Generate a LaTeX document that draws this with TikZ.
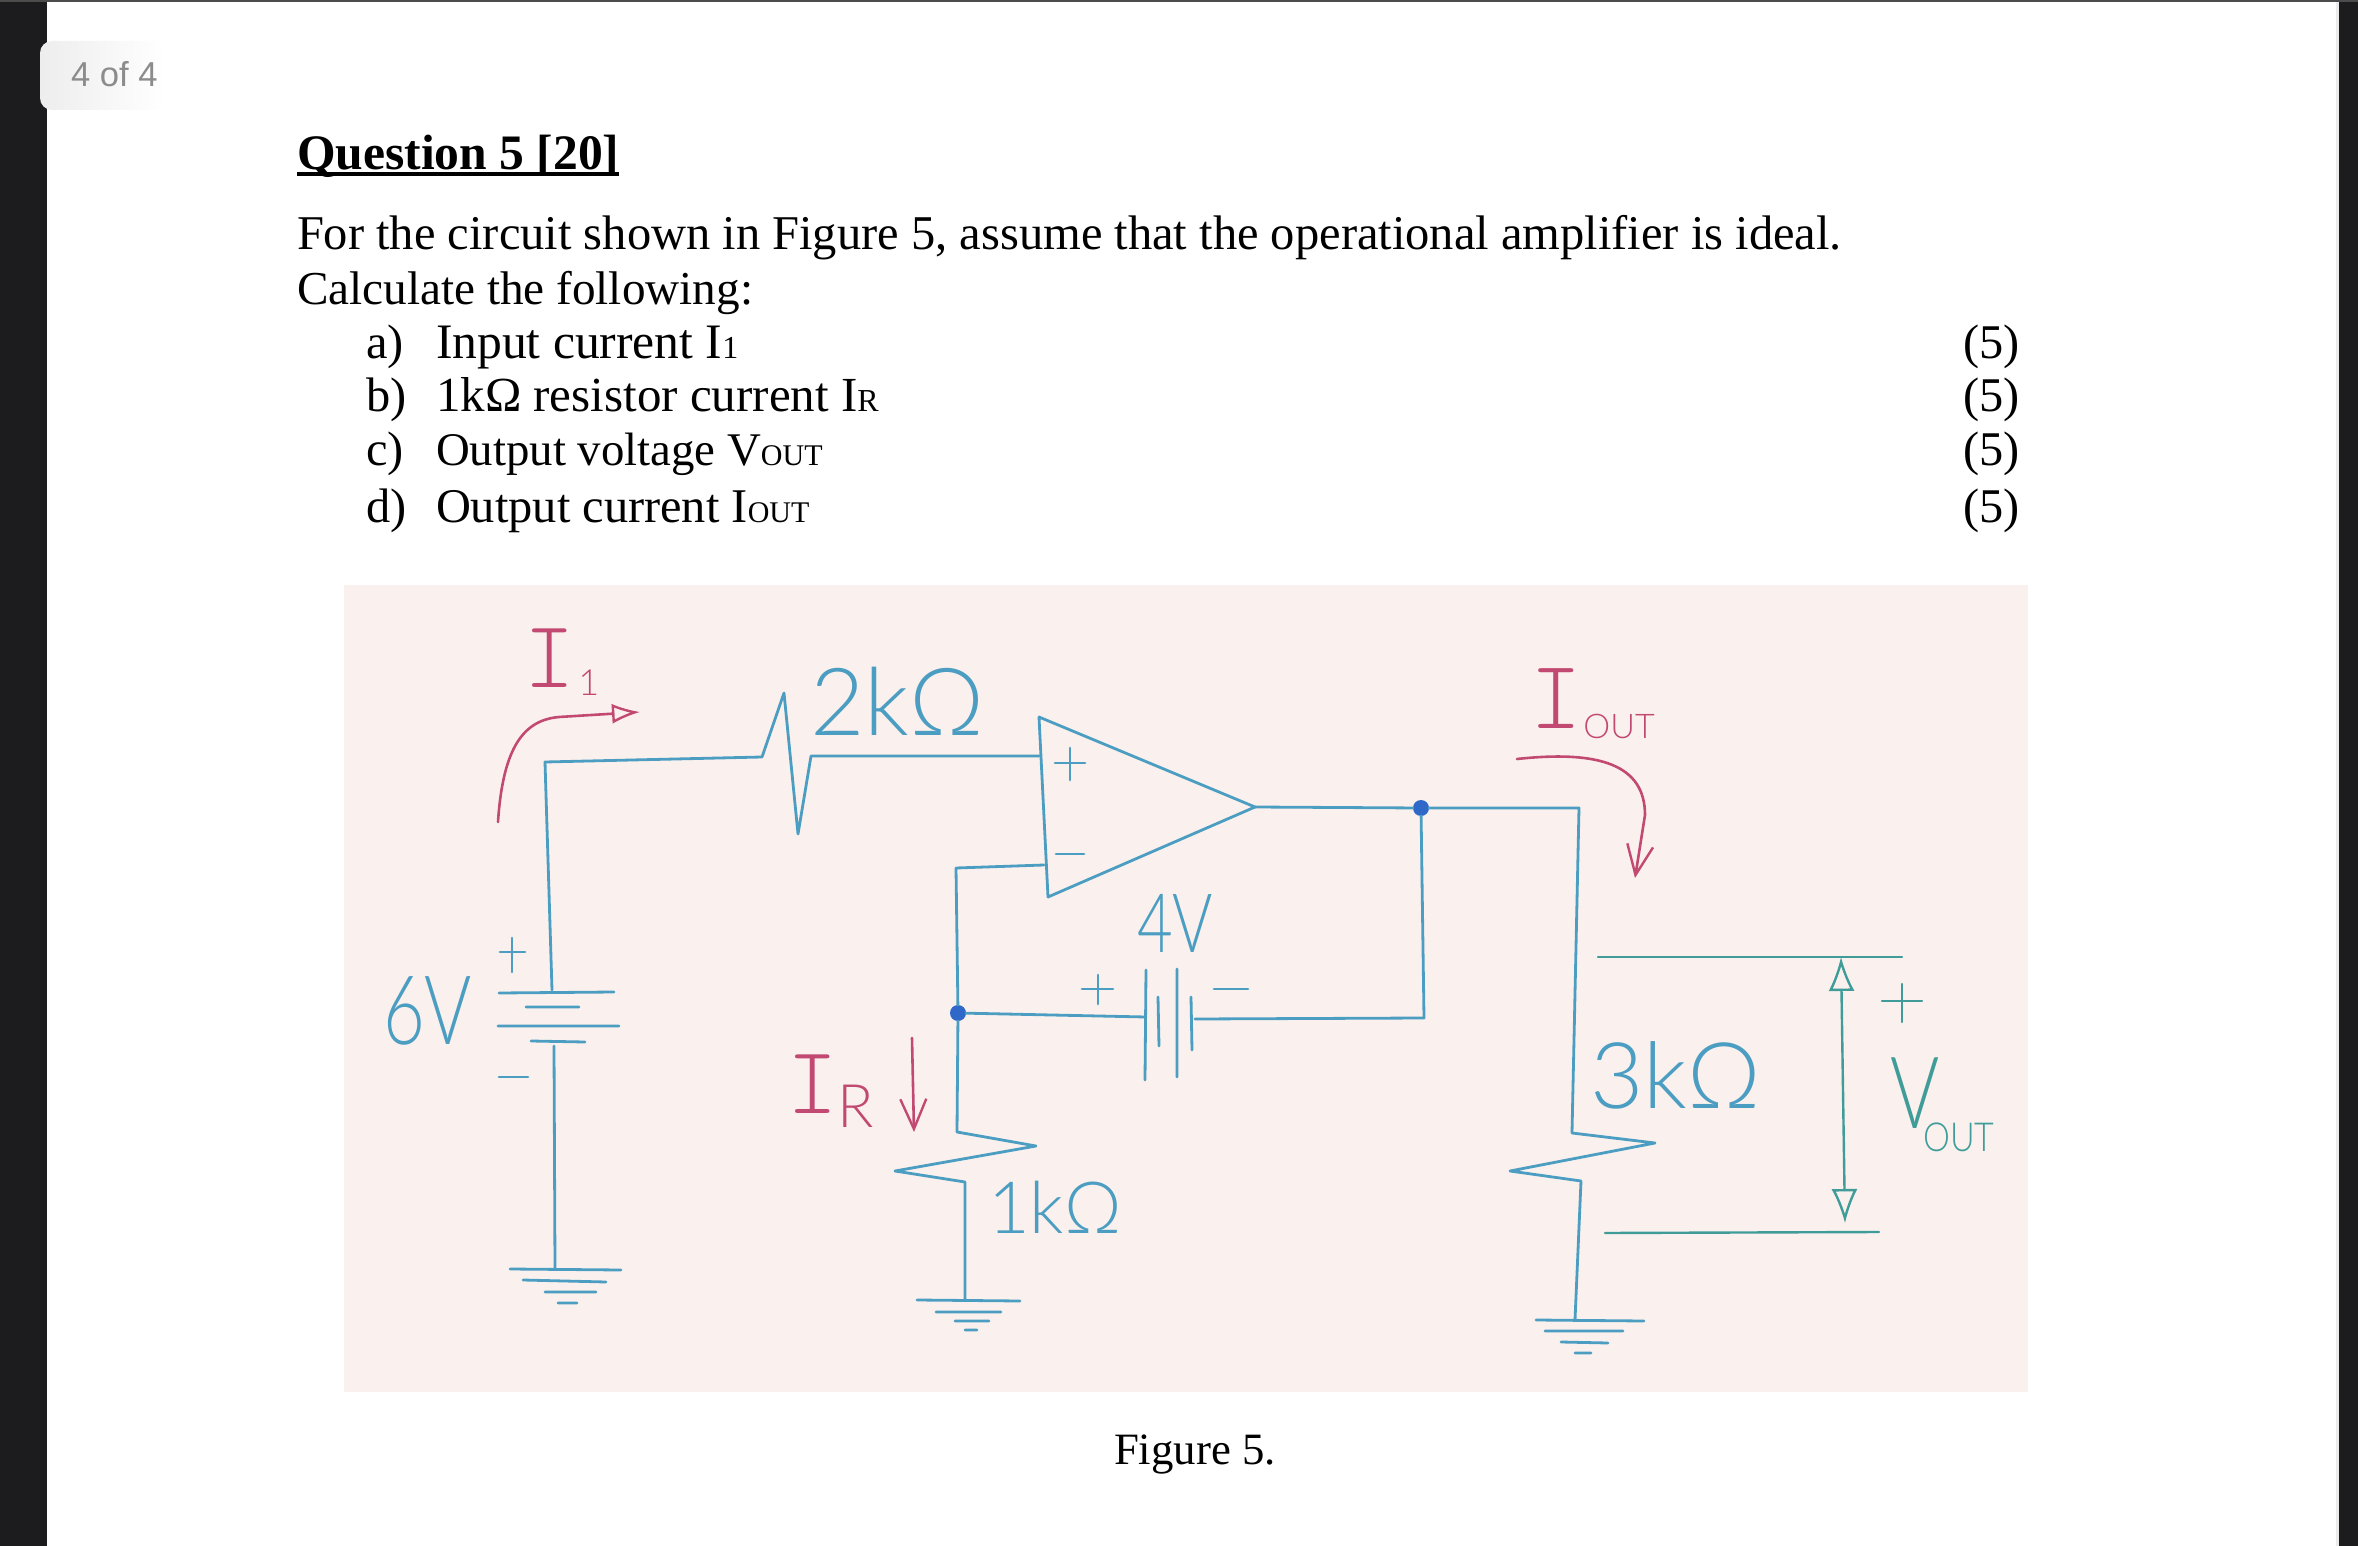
\documentclass[tikz,border=0pt]{standalone}
\usepackage{fontspec}
\usetikzlibrary{arrows.meta}
\setmainfont{Liberation Serif}
\newfontfamily\sansfont{Liberation Sans}
\newfontfamily\handfont{Lato Light}
\newfontfamily\narrowfont{Lato Light}[FakeStretch=0.75]
\newfontfamily\outfont{Lato Light}[FakeStretch=0.85]
\newfontfamily\barfont{Latin Modern Mono Light}
\newcommand{\fsz}[1]{\fontsize{#1}{#1}\selectfont}
% letter I with its crossbars and a small index
\newcommand{\barI}[5]{{\barfont\fsz{#1}I}\kern#2pt\lower#3pt\hbox{\handfont\fsz{#4}#5}}
\definecolor{penblue}{HTML}{4C9DC2}
\definecolor{penred}{HTML}{C24A72}
\definecolor{pengreen}{HTML}{3F9C98}
\definecolor{dotblue}{HTML}{2F68C8}
\definecolor{sheetpink}{HTML}{FAF1EE}
\definecolor{darkbar}{HTML}{1C1C1E}

\begin{document}
\begin{tikzpicture}[
  x=0.5pt, y=-0.5pt,
  every node/.style={inner sep=0pt, outer sep=0pt, anchor=base west},
  bodytext/.style={font=\fsz{#1}},
  bodytext/.default=24.2,
  pen/.style={draw=penblue, line width=1.4pt, line cap=round, line join=round},
  pengrn/.style={draw=pengreen, line width=1.2pt, line cap=round},
  penrd/.style={draw=penred, line width=1.3pt, line cap=round},
  labelbl/.style={text=penblue, font=\handfont\fsz{#1}},
  labelrd/.style={text=penred, font=\handfont\fsz{#1}},
  joint/.style={circle, fill=dotblue, minimum size=8pt, anchor=center},
  barb/.style={-{Straight Barb[length=15pt, width=13pt, line width=1.2pt]}},
  hollow/.style={-{Latex[open, length=14pt, width=10pt, line width=1.2pt]}},
  ]
  \useasboundingbox (0,0) rectangle (2358,1546);
  % page
  \fill[white] (0,0) rectangle (2358,1546);
  \fill[darkbar] (0,0) rectangle (47,1546);
  \fill[darkbar] (2339,0) rectangle (2358,1546);
  \fill[black!8] (2336,2) rectangle (2339,1546);
  \fill[black!70] (0,0) rectangle (2358,2);
  \shade[left color=black!7, right color=white, rounded corners=6pt] (40,41) rectangle (165,110);
  \node[text=black!45, font=\sansfont\fsz{17.3}] (pagetag) at (71,87) {4 of 4};

  % question text
  \node[font=\bfseries\fsz{24.8}] (title) at (297,170) {Question 5 [20]};
  \draw[line width=1.6pt] ([yshift=-2pt]title.base west) -- ([yshift=-2pt]title.base east);
  \node[bodytext=24.25] (intro) at (297,250) {For the circuit shown in Figure 5, assume that the operational amplifier is ideal.};
  \node[bodytext=23.6] (calc) at (297,305) {Calculate the following:};
  \node[bodytext] (itema) at (366,358) {a)};
  \node[bodytext] (itemb) at (366,412) {b)};
  \node[bodytext] (itemc) at (366,466) {c)};
  \node[bodytext] (itemd) at (366,522) {d)};
  \node[bodytext=24.8] (texta) at (436,358) {Input current I\fsz{16}1};
  \node[bodytext=24.5] (textb) at (436,412) {1kΩ resistor current I\fsz{16}R};
  \node[bodytext=23.4] (textc) at (436,466) {Output voltage V\fsz{15}OUT};
  \node[bodytext] (textd) at (436,522) {Output current I\fsz{15}OUT};
  \node[bodytext] (marka) at (1963,358) {(5)};
  \node[bodytext] (markb) at (1963,412) {(5)};
  \node[bodytext] (markc) at (1963,466) {(5)};
  \node[bodytext] (markd) at (1963,522) {(5)};
  \node[bodytext=22.4] (figcap) at (1114,1464) {Figure 5.};

  % sketch
  \fill[sheetpink] (344,585) rectangle (2028,1392);

  \coordinate (topleft) at (545,762);
  \coordinate (rtwoa) at (762,757);
  \coordinate (rtwob) at (784,693);
  \coordinate (rtwoc) at (798,834);
  \coordinate (rtwod) at (811,756);
  \coordinate (plusin) at (1039,756);
  \coordinate (optop) at (1039,717);
  \coordinate (opbot) at (1048,897);
  \coordinate (optip) at (1255,807);
  \coordinate (minusin) at (1044,865);
  \coordinate (fbtop) at (956,868);
  \coordinate (rone) at (957,1132);
  \coordinate (roneb) at (1036,1146);
  \coordinate (ronec) at (895,1171);
  \coordinate (roned) at (965,1182);
  \coordinate (gndone) at (965,1300);
  \coordinate (sixtop) at (552,990);
  \coordinate (sixbot) at (554,1046);
  \coordinate (gndsix) at (555,1269);
  \coordinate (fourl) at (1146,1017);
  \coordinate (fourr) at (1195,1019);
  \coordinate (fbcorner) at (1424,1018);
  \coordinate (outcorner) at (1579,808);
  \coordinate (rthree) at (1572,1133);
  \coordinate (rthreeb) at (1655,1143);
  \coordinate (rthreec) at (1510,1171);
  \coordinate (rthreed) at (1581,1181);
  \coordinate (gndthree) at (1575,1320);
  \node[joint] (fbjoint) at (958,1013) {};
  \node[joint] (outjoint) at (1421,808) {};

  % wires
  \draw[pen] (sixtop) -- (topleft) -- (rtwoa) -- (rtwob) -- (rtwoc) -- (rtwod) -- (plusin);
  \draw[pen] (optop) -- (optip) -- (opbot) -- cycle;
  \draw[pen] (minusin) -- (fbtop) -- (fbjoint) -- (rone) -- (roneb) -- (ronec) -- (roned) -- (gndone);
  \draw[pen] (sixbot) -- (gndsix);
  \draw[pen] (fbjoint) -- (fourl);
  \draw[pen] (fourr) -- (fbcorner) -- (outjoint);
  \draw[pen] (optip) -- (outjoint) -- (outcorner) -- (rthree) -- (rthreeb) -- (rthreec) -- (rthreed) -- (gndthree);

  % signs on the op amp
  \draw[pen] (1055,763) -- (1085,763) (1070,748) -- (1070,780);
  \draw[pen] (1056,854) -- (1084,854);

  % 6V cell
  \draw[pen] (499,993) -- (614,992) (526,1007) -- (579,1007) (498,1026) -- (619,1026) (531,1041) -- (585,1042);
  \draw[pen] (500,952) -- (525,952) (512,938) -- (512,972);
  \draw[pen] (499,1077) -- (528,1077);

  % 4V cell
  \draw[pen] (1146,970) -- (1145,1080) (1158,997) -- (1159,1046) (1177,969) -- (1177,1077) (1191,997) -- (1192,1050);
  \draw[pen] (1082,989) -- (1113,989) (1098,975) -- (1098,1004);
  \draw[pen] (1214,989) -- (1248,989);

  % grounds
  \draw[pen] (510,1269) -- (621,1270) (523,1280) -- (606,1282) (545,1292) -- (596,1292) (558,1303) -- (577,1303);
  \draw[pen] (917,1300) -- (1020,1301) (936,1312) -- (1001,1312) (955,1321) -- (989,1321) (965,1330) -- (977,1330);
  \draw[pen] (1536,1320) -- (1644,1321) (1545,1331) -- (1623,1331) (1561,1342) -- (1608,1343) (1575,1353) -- (1591,1353);

  % values
  \node[labelbl=47] (ltwok) at (810,735) {2kΩ};
  \node[labelbl=36] (lonek) at (988,1233) {1kΩ};
  \node[labelbl=46] (lthreek) at (1590,1108) {3kΩ};
  \node[labelbl=38, font=\narrowfont\fsz{41}] (lfour) at (1137,952) {4V};
  \node[labelbl=48, font=\narrowfont\fsz{48}] (lsix) at (383,1044) {6V};

  % currents
  \coordinate (ionestart) at (498,822);
  \coordinate (ionebend) at (559,717);
  \coordinate (ioneend) at (640,712);
  \draw[penrd, hollow] (ionestart) .. controls (503,745) and (525,720) .. (ionebend) -- (ioneend);
  \node[labelrd=18] (lione) at (524,687) {\barI{48}{2}{4}{18}{1}};
  \coordinate (irstart) at (912,1038);
  \coordinate (irend) at (914,1132);
  \draw[penrd, barb] (irstart) -- (irend);
  \node[labelrd=18] (lir) at (787,1113) {\barI{48}{0}{7}{30}{R}};
  \coordinate (ioutstart) at (1517,759);
  \coordinate (ioutbend) at (1645,815);
  \coordinate (ioutend) at (1635,878);
  \draw[penrd, barb] (ioutstart) .. controls (1600,750) and (1645,765) .. (ioutbend) -- (ioutend);
  \node[labelrd=18] (liout) at (1530,728) {\barI{49}{1}{5}{17}{OUT}};

  % output voltage
  \coordinate (vtopa) at (1598,957);
  \coordinate (vtopb) at (1902,957);
  \coordinate (vbota) at (1605,1233);
  \coordinate (vbotb) at (1879,1232);
  \coordinate (vup) at (1841,957);
  \coordinate (vdown) at (1845,1223);
  \draw[pengrn] (vtopa) -- (vtopb);
  \draw[pengrn] (vbota) -- (vbotb);
  \draw[pengrn, {Latex[open, length=17pt, width=13pt, line width=1.2pt]}-{Latex[open, length=17pt, width=13pt, line width=1.2pt]}] (vup) -- (vdown);
  \draw[pengrn] (1882,1001) -- (1922,1001) (1902,984) -- (1902,1022);
  \node[text=pengreen, font=\narrowfont\fsz{50}] (lvout) at (1890,1128) {V\kern-8pt\lower11.5pt\hbox{\outfont\fsz{20}OUT}};
\end{tikzpicture}
\end{document}
